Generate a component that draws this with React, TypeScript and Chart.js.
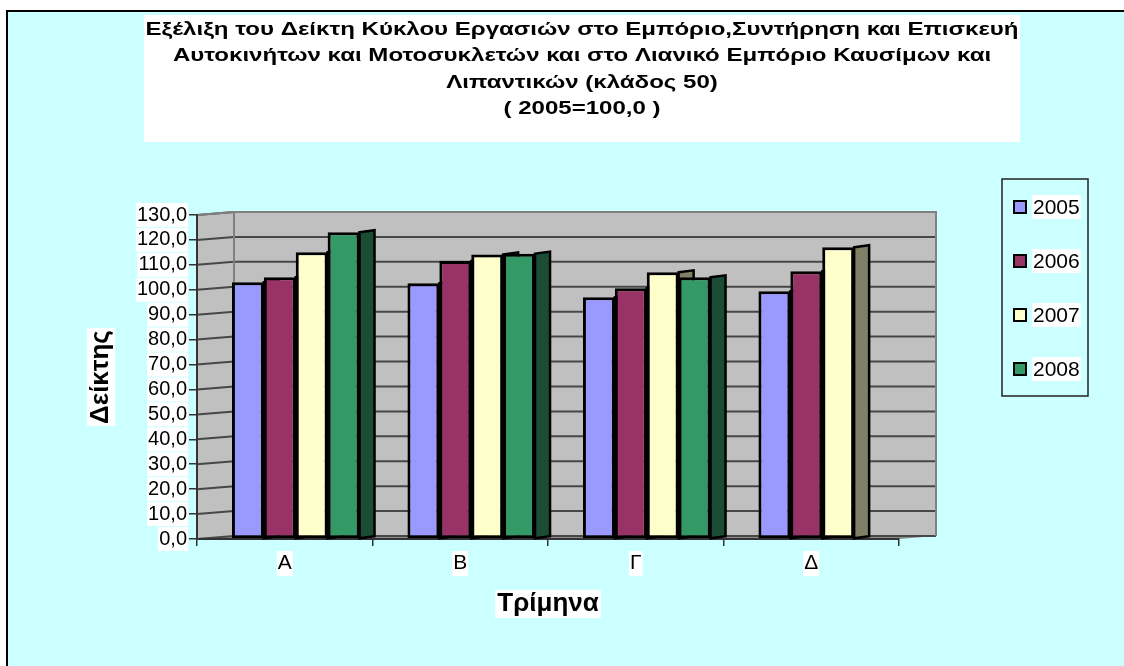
import React, { useEffect, useRef } from "react";
import { Chart, registerables } from "chart.js";

Chart.register(...registerables);

// ---------- data ----------
const categories = ["Α", "Β", "Γ", "Δ"];
const seriesNames = ["2005", "2006", "2007", "2008"];
const values2005 = [103.0, 102.6, 97.0, 99.4];
const values2006 = [105.0, 111.5, 100.6, 107.4];
const values2007 = [115.1, 114.2, 107.0, 117.1];
const values2008: (number | null)[] = [123.1, 114.5, 105.0, null];
const seriesValues = [values2005, values2006, values2007, values2008];
const seriesColors = ["#9999FF", "#993366", "#FFFFCC", "#339966"];
const sideColors = ["#4D4D80", "#4D1A33", "#808066", "#1A4D33"];
const yMin = 0;
const yMax = 130;
const yStep = 10;
const titleLines = [
  "Εξέλιξη του Δείκτη Κύκλου Εργασιών στο Εμπόριο,Συντήρηση και Επισκευή",
  "Αυτοκινήτων και Μοτοσυκλετών και στο Λιανικό Εμπόριο Καυσίμων και",
  "Λιπαντικών (κλάδος 50)",
  "( 2005=100,0 )",
];
const yAxisTitle = "Δείκτης";
const xAxisTitle = "Τρίμηνα";

// ---------- layout constants ----------
const W = 1124;
const H = 666;
const FONT = "'Liberation Sans', Arial, sans-serif";
const DEPTH_X = 37;
const DEPTH_Y = 3;
const BAR_SHIFT = 0.0626; // 3-D projection shift of bar groups (in category units)
const Y_TITLE_SIZE = 26;
const Y_TITLE_PAD = 85;
const X_TITLE_SIZE = 26;
const TITLE_SIZE = 19;
const TITLE_WIDTH = 873;

const decorPlugin = {
  id: "decor",
  beforeDraw(chart: any) {
    const { ctx, chartArea: ca, scales } = chart;
    const y = scales.y;
    const x = scales.x;
    ctx.save();
    // page and chart background
    ctx.fillStyle = "#FFFFFF";
    ctx.fillRect(0, 0, W, H);
    ctx.fillStyle = "#CCFFFF";
    ctx.fillRect(6, 10, W - 6, H - 10);
    ctx.strokeStyle = "#000";
    ctx.lineWidth = 2;
    ctx.beginPath();
    ctx.moveTo(7, H);
    ctx.lineTo(7, 11);
    ctx.lineTo(W, 11);
    ctx.stroke();

    // title (white box + stretched bold text)
    ctx.fillStyle = "#FFFFFF";
    ctx.fillRect(144, 15, 876, 127);
    ctx.fillStyle = "#000";
    ctx.font = `bold ${TITLE_SIZE}px ${FONT}`;
    ctx.textAlign = "center";
    ctx.textBaseline = "middle";
    const sx = TITLE_WIDTH / ctx.measureText(titleLines[0]).width;
    const tys = [30, 56, 83, 109];
    titleLines.forEach((t, i) => {
      ctx.save();
      ctx.translate(582, tys[i]);
      ctx.scale(sx, 1);
      ctx.fillText(t, 0, 0);
      ctx.restore();
    });

    // 3-D walls
    const L = ca.left, R = ca.right, T = ca.top, B = ca.bottom;
    ctx.fillStyle = "#C0C0C0";
    ctx.fillRect(L + DEPTH_X, T - DEPTH_Y, R - L, B - T);
    ctx.beginPath();
    ctx.moveTo(L, T);
    ctx.lineTo(L + DEPTH_X, T - DEPTH_Y);
    ctx.lineTo(L + DEPTH_X, B - DEPTH_Y);
    ctx.lineTo(L, B);
    ctx.closePath();
    ctx.fill();
    ctx.fillStyle = "#8C8C8C";
    ctx.beginPath();
    ctx.moveTo(L, B);
    ctx.lineTo(L + DEPTH_X, B - DEPTH_Y);
    ctx.lineTo(R + DEPTH_X, B - DEPTH_Y);
    ctx.lineTo(R, B);
    ctx.closePath();
    ctx.fill();

    // gridlines on walls
    ctx.strokeStyle = "#474747";
    ctx.lineWidth = 2;
    y.ticks.forEach((tk: any) => {
      const py = y.getPixelForValue(tk.value);
      ctx.beginPath();
      ctx.moveTo(L, py);
      ctx.lineTo(L + DEPTH_X, py - DEPTH_Y);
      ctx.lineTo(R + DEPTH_X, py - DEPTH_Y);
      ctx.stroke();
    });
    ctx.strokeStyle = "#808080";
    ctx.lineWidth = 2;
    ctx.beginPath();
    ctx.moveTo(L, T);
    ctx.lineTo(L + DEPTH_X, T - DEPTH_Y);
    ctx.lineTo(R + DEPTH_X, T - DEPTH_Y);
    ctx.lineTo(R + DEPTH_X, B - DEPTH_Y);
    ctx.moveTo(L + DEPTH_X, T - DEPTH_Y);
    ctx.lineTo(L + DEPTH_X, B - DEPTH_Y);
    ctx.stroke();

    // white boxes behind axis titles
    ctx.fillStyle = "#FFFFFF";
    ctx.font = `bold ${Y_TITLE_SIZE}px ${FONT}`;
    const yw = ctx.measureText(yAxisTitle).width;
    const ylh = Y_TITLE_SIZE * 1.2;
    const ycx = y.left + Y_TITLE_PAD + ylh / 2;
    const ycy = (y.top + y.bottom) / 2;
    ctx.fillRect(ycx - ylh / 2 + 2, ycy - yw / 2 - 2, ylh - 3, yw + 4);
    ctx.font = `bold ${X_TITLE_SIZE}px ${FONT}`;
    const xw = ctx.measureText(xAxisTitle).width;
    const xlh = X_TITLE_SIZE * 1.2;
    const xcx = (x.left + x.right) / 2;
    const xcy = x.bottom - xlh / 2;
    ctx.fillRect(xcx - xw / 2 - 2, xcy - xlh / 2 + 2, xw + 4, xlh - 3);

    ctx.restore();
  },
  beforeDatasetsDraw(chart: any) {
    const { ctx } = chart;
    ctx.save();
    ctx.lineWidth = 2.5;
    ctx.strokeStyle = "#000";
    ctx.lineJoin = "miter";
    chart.data.datasets.forEach((ds: any, di: number) => {
      const meta = chart.getDatasetMeta(di);
      meta.data.forEach((el: any, i: number) => {
        const raw = seriesValues[di][i];
        if (raw === null || raw === undefined) return;
        const p = el.getProps(["x", "y", "base", "width"], true);
        const xr = p.x + p.width / 2;
        ctx.fillStyle = sideColors[di];
        ctx.beginPath();
        ctx.moveTo(xr, p.y);
        ctx.lineTo(xr + 15, p.y - 2);
        ctx.lineTo(xr + 15, p.base - 2);
        ctx.lineTo(xr, p.base);
        ctx.closePath();
        ctx.fill();
        ctx.stroke();
      });
    });
    ctx.restore();
  },
  afterDraw(chart: any) {
    const { ctx } = chart;
    ctx.save();
    // legend
    ctx.strokeStyle = "#222";
    ctx.lineWidth = 1.5;
    ctx.strokeRect(1002, 179, 86, 217);
    ctx.font = `21px ${FONT}`;
    ctx.textAlign = "left";
    ctx.textBaseline = "middle";
    seriesNames.forEach((name, i) => {
      const cy = 207 + i * 54;
      const tw = ctx.measureText(name).width;
      ctx.fillStyle = "#FFFFFF";
      ctx.fillRect(1032, cy - 12, tw + 2, 24);
      ctx.fillStyle = seriesColors[i];
      ctx.fillRect(1014, cy - 6, 12, 12);
      ctx.strokeStyle = "#000";
      ctx.lineWidth = 2;
      ctx.strokeRect(1014, cy - 6, 12, 12);
      ctx.fillStyle = "#000";
      ctx.fillText(name, 1033, cy + 1);
    });
    ctx.restore();
  },
};

export default function App() {
  const canvasRef = useRef<HTMLCanvasElement | null>(null);

  useEffect(() => {
    if (!canvasRef.current) return;
    const chart = new Chart(canvasRef.current, {
      type: "bar",
      data: {
        labels: categories,
        datasets: seriesNames.map((name, di) => ({
          label: name,
          data: seriesValues[di].map((v, i) => ({ x: i, y: v })),
          backgroundColor: seriesColors[di],
          borderColor: "#000000",
          borderWidth: 3,
          borderSkipped: false,
          xAxisID: "xb",
          yAxisID: "y",
          categoryPercentage: 0.727,
          barPercentage: 1.0,
        })),
      } as any,
      options: {
        responsive: false,
        animation: false,
        events: [],
        layout: { padding: { left: 0, top: 215, right: 225, bottom: 47 } },
        plugins: {
          legend: { display: false },
          title: { display: false },
          tooltip: { enabled: false },
        },
        scales: {
          xb: {
            type: "linear",
            display: false,
            position: "bottom",
            offset: false,
            grid: { offset: false },
            bounds: "data",
            min: -0.5 - BAR_SHIFT,
            max: categories.length - 0.5 - BAR_SHIFT,
            afterBuildTicks: (scale: any) => {
              scale.ticks = categories.map((_, i) => ({ value: i }));
            },
          },
          x: {
            type: "category",
            position: "bottom",
            offset: true,
            grid: {
              display: true,
              drawOnChartArea: false,
              drawTicks: true,
              tickLength: 7,
              offset: true,
              color: "#333333",
              lineWidth: 1.5,
            },
            border: { display: true, color: "#333333", width: 2 },
            ticks: {
              color: "#000",
              font: { family: FONT, size: 21 },
              padding: 5,
              showLabelBackdrop: true,
              backdropColor: "#FFFFFF",
              backdropPadding: { top: 0, bottom: 0, left: 1, right: 1 },
            } as any,
            title: {
              display: true,
              text: xAxisTitle,
              color: "#000",
              font: { family: FONT, size: X_TITLE_SIZE, weight: "bold" },
              padding: { top: 0, bottom: 0 },
            },
            afterFit: (scale: any) => {
              scale.height = 80;
            },
          },
          y: {
            type: "linear",
            position: "left",
            min: yMin,
            max: yMax,
            ticks: {
              stepSize: yStep,
              autoSkip: false,
              color: "#000",
              font: { family: FONT, size: 20 },
              padding: 2,
              showLabelBackdrop: true,
              backdropColor: "#FFFFFF",
              backdropPadding: { top: 0, bottom: 0, left: 1, right: 1 },
              callback: (v: any) => Number(v).toFixed(1).replace(".", ","),
            } as any,
            grid: {
              display: true,
              drawOnChartArea: false,
              drawTicks: true,
              tickLength: 8,
              color: "#333333",
              lineWidth: 1.5,
            },
            border: { display: true, color: "#333333", width: 2 },
            title: {
              display: true,
              text: yAxisTitle,
              color: "#000",
              font: { family: FONT, size: Y_TITLE_SIZE, weight: "bold" },
              padding: { top: Y_TITLE_PAD, bottom: 0 },
            },
            afterFit: (scale: any) => {
              scale.width = 197;
            },
          },
        },
      },
      plugins: [decorPlugin],
    } as any);
    return () => chart.destroy();
  }, []);

  return (
    <div style={{ position: "fixed", left: 0, top: 0, width: W, height: H }}>
      <canvas ref={canvasRef} width={W} height={H} style={{ display: "block", width: W, height: H }} />
    </div>
  );
}
